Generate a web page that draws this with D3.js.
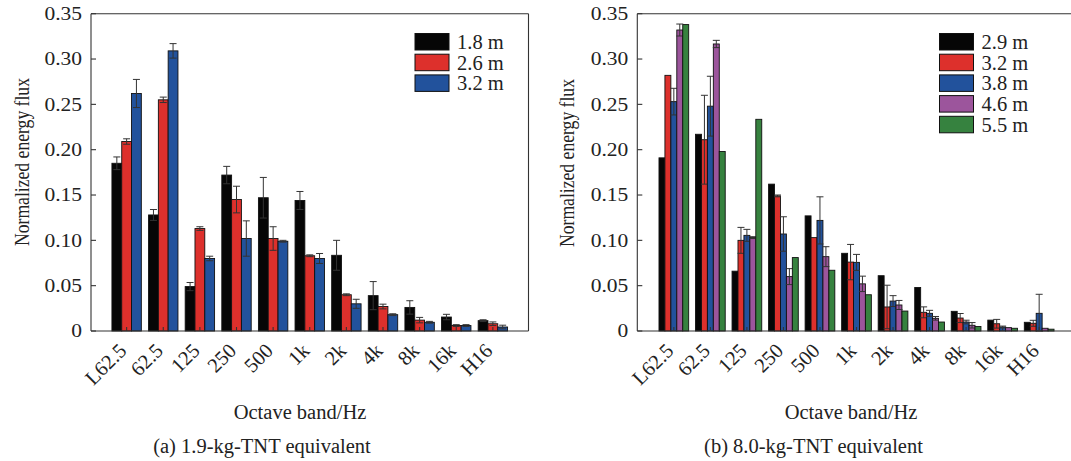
<!DOCTYPE html>
<html><head><meta charset="utf-8">
<script src="https://cdn.jsdelivr.net/npm/d3@7"></script>
<style>
html,body{margin:0;padding:0;background:#fff;}
svg{display:block;}
svg text{font-family:"Liberation Serif","Times New Roman",Times,"Nimbus Roman","DejaVu Serif",serif;}
</style></head>
<body>
<svg id="chart" width="1071" height="461"></svg>
<script>
// ---------- data ----------
const categories = ["L62.5","62.5","125","250","500","1k","2k","4k","8k","16k","H16"];
const yTicks = [0,0.05,0.10,0.15,0.20,0.25,0.30,0.35];
const yTickLabels = ["0","0.05","0.10","0.15","0.20","0.25","0.30","0.35"];

// (a) 1.9-kg-TNT equivalent
const leftSeriesNames = ["1.8 m","2.6 m","3.2 m"];
const left18 = [0.185,0.128,0.049,0.172,0.147,0.144,0.0835,0.039,0.026,0.0154,0.0114];
const left18Err = [0.007,0.006,0.0045,0.0096,0.0224,0.0099,0.0165,0.0155,0.0074,0.003,0.001];
const left26 = [0.209,0.255,0.113,0.145,0.102,0.083,0.040,0.027,0.012,0.006,0.008];
const left26Err = [0.003,0.003,0.002,0.0147,0.013,0.001,0.001,0.0026,0.003,0.001,0.002];
const left32 = [0.262,0.309,0.080,0.102,0.099,0.080,0.030,0.018,0.0096,0.006,0.0044];
const left32Err = [0.0155,0.008,0.0025,0.0195,0.001,0.0055,0.005,0.001,0.001,0.001,0.002];

// (b) 8.0-kg-TNT equivalent
const rightSeriesNames = ["2.9 m","3.2 m","3.8 m","4.6 m","5.5 m"];
const right29 = [0.191,0.217,0.066,0.162,0.127,0.0857,0.061,0.048,0.0217,0.012,0.0096];
const right29Err = [0,0,0,0,0,0,0,0,0,0,0];
const right32 = [0.282,0.211,0.100,0.149,0.103,0.076,0.0265,0.0206,0.0143,0.008,0.0085];
const right32Err = [0,0.049,0.0143,0.001,0,0.0195,0.024,0.006,0.005,0.0048,0.0033];
const right38 = [0.253,0.248,0.1055,0.107,0.122,0.0757,0.033,0.0195,0.0099,0.0044,0.0195];
const right38Err = [0.0147,0.033,0.0066,0.019,0.026,0.0088,0.006,0.0033,0.002,0.001,0.021];
const right46 = [0.332,0.3166,0.103,0.060,0.082,0.052,0.0287,0.014,0.0063,0.0037,0.003];
const right46Err = [0.0066,0.004,0.001,0.0088,0.011,0.0085,0.005,0.002,0.003,0,0];
const right55 = [0.338,0.198,0.2335,0.081,0.067,0.040,0.022,0.0099,0.005,0.003,0.002];
const right55Err = [0,0,0,0,0,0,0,0,0,0,0];

const colors = ["#060606","#dd302c","#22529c","#9c559c","#36823f"];

// ---------- drawing ----------
const svg = d3.select("#chart");
const yTop = 13.7, yBottom = 331;
const FONT = "'Liberation Serif','Times New Roman',Times,'Nimbus Roman','DejaVu Serif',serif";

function txt(sel){ return sel.attr("font-family", FONT).attr("fill","#222"); }

function panel(opt){
  const g = svg.append("g");
  const x = d3.scaleBand().domain(categories).range([opt.x0, opt.x1])
      .paddingInner(0).paddingOuter(opt.padOuter);
  const y = d3.scaleLinear().domain([0,0.35]).range([yBottom, yTop]);
  const sub = d3.scaleBand().domain(d3.range(opt.series.length))
      .range([-opt.groupW/2, opt.groupW/2]).padding(0);

  // bars
  opt.series.forEach((vals, si) => {
    const errs = opt.errors[si];
    const gs = g.append("g");
    gs.selectAll("rect").data(vals).join("rect")
      .attr("x", (d,i)=> x(categories[i]) + x.bandwidth()/2 + sub(si))
      .attr("y", d=> y(d))
      .attr("width", sub.bandwidth())
      .attr("height", d=> y(0)-y(d))
      .attr("fill", colors[si])
      .attr("stroke", "#111").attr("stroke-width", 0.9);
    const eg = g.append("g").attr("stroke","#333").attr("stroke-width",1).attr("fill","none");
    vals.forEach((d,i)=>{
      const e = errs[i];
      if(!e) return;
      const cx = x(categories[i]) + x.bandwidth()/2 + sub(si) + sub.bandwidth()/2;
      const cw = opt.capW;
      eg.append("line").attr("x1",cx).attr("x2",cx).attr("y1",y(d+e)).attr("y2",y(Math.max(0,d-e)));
      eg.append("line").attr("x1",cx-cw).attr("x2",cx+cw).attr("y1",y(d+e)).attr("y2",y(d+e));
      eg.append("line").attr("x1",cx-cw).attr("x2",cx+cw).attr("y1",y(Math.max(0,d-e))).attr("y2",y(Math.max(0,d-e)));
    });
  });

  // frame
  const fr = g.append("g").attr("stroke","#333").attr("stroke-width",1.1).attr("fill","none");
  fr.append("line").attr("x1",opt.x0).attr("x2",opt.x1).attr("y1",yTop).attr("y2",yTop);
  fr.append("line").attr("x1",opt.x0).attr("x2",opt.x1).attr("y1",yBottom).attr("y2",yBottom);
  fr.append("line").attr("x1",opt.x0).attr("x2",opt.x0).attr("y1",yTop).attr("y2",yBottom);
  fr.append("line").attr("x1",opt.x1).attr("x2",opt.x1).attr("y1",yTop).attr("y2",yBottom);

  yTicks.forEach((t,i)=>{
    fr.append("line").attr("x1",opt.x0).attr("x2",opt.x0+5).attr("y1",y(t)).attr("y2",y(t));
    txt(g.append("text"))
      .attr("transform",`translate(${opt.x0-9},${y(t)}) scale(1,0.84)`)
      .attr("text-anchor","end").attr("dy","0.35em")
      .attr("font-size",21.5)
      .text(yTickLabels[i]);
  });
  categories.forEach(c=>{
    const cx = x(c)+x.bandwidth()/2;
    fr.append("line").attr("x1",cx).attr("x2",cx).attr("y1",yBottom).attr("y2",yBottom-4);
    txt(g.append("text"))
      .attr("transform",`translate(${cx+opt.labelDx},352) rotate(-45)`)
      .attr("text-anchor","end")
      .attr("font-size",20.5)
      .text(c);
  });

  txt(g.append("text"))
    .attr("transform",`translate(${opt.yTitleX},${opt.yTitleY}) rotate(-90) scale(0.86,1)`)
    .attr("text-anchor","middle").attr("font-size",20.5)
    .text("Normalized energy flux");
  txt(g.append("text")).attr("x",opt.xTitleX).attr("y",419).attr("text-anchor","middle")
    .attr("font-size",20.5).text("Octave band/Hz");
  txt(g.append("text")).attr("x",opt.capX).attr("y",452.5).attr("text-anchor","middle")
    .attr("font-size",20.5).text(opt.caption);

  const lg = g.append("g");
  opt.names.forEach((n,i)=>{
    const ly = opt.legY + i*20.7;
    lg.append("rect").attr("x",opt.legX).attr("y",ly).attr("width",34).attr("height",16.5)
      .attr("fill",colors[i]).attr("stroke","#111").attr("stroke-width",1);
    txt(lg.append("text")).attr("x",opt.legX+42).attr("y",ly+15.5)
      .attr("font-size",20.5).text(n);
  });
}

panel({
  x0:91, x1:528.5, padOuter:0.473, groupW:29.4, capW:3.5,
  series:[left18,left26,left32], errors:[left18Err,left26Err,left32Err],
  names:leftSeriesNames, legX:415, legY:33.5,
  yTitleX:29, yTitleY:162, xTitleX:300, capX:262, labelDx:1,
  caption:"(a) 1.9-kg-TNT equivalent"
});
panel({
  x0:637.3, x1:1075.7, padOuter:0.5, groupW:29.7, capW:3.5,
  series:[right29,right32,right38,right46,right55],
  errors:[right29Err,right32Err,right38Err,right46Err,right55Err],
  names:rightSeriesNames, legX:939.5, legY:33.5,
  yTitleX:574, yTitleY:163, xTitleX:851, capX:813.5, labelDx:1,
  caption:"(b) 8.0-kg-TNT equivalent"
});
</script>
</body></html>
